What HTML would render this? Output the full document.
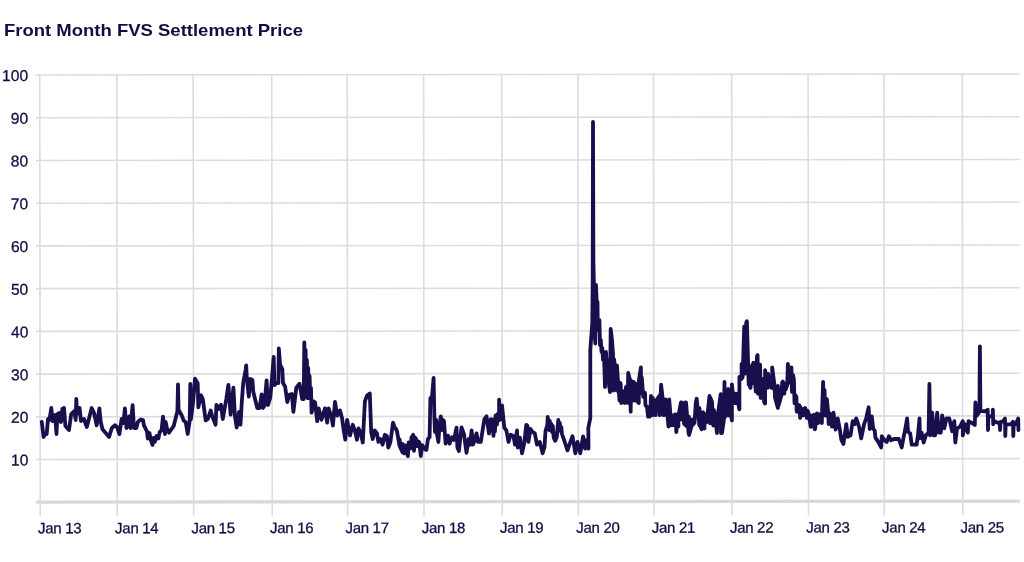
<!DOCTYPE html>
<html><head><meta charset="utf-8"><title>Front Month FVS Settlement Price</title>
<style>html,body{margin:0;padding:0;background:#fff;width:1024px;height:562px;overflow:hidden}svg{display:block}</style>
</head><body>
<svg width="1024" height="562" viewBox="0 0 1024 562">
<text x="3.9" y="36.2" font-family="Liberation Sans, Arial, sans-serif" font-weight="bold" font-size="17.0" fill="#130c44" textLength="299.1" lengthAdjust="spacingAndGlyphs">Front Month FVS Settlement Price</text>
<g transform="rotate(-0.0544 40 510)">
<line x1="36.2" x2="1020.0" y1="459.57" y2="459.57" stroke="#dcdcdc" stroke-width="1.6"/>
<line x1="36.2" x2="1020.0" y1="416.84" y2="416.84" stroke="#dcdcdc" stroke-width="1.6"/>
<line x1="36.2" x2="1020.0" y1="374.11" y2="374.11" stroke="#dcdcdc" stroke-width="1.6"/>
<line x1="36.2" x2="1020.0" y1="331.38" y2="331.38" stroke="#dcdcdc" stroke-width="1.6"/>
<line x1="36.2" x2="1020.0" y1="288.65" y2="288.65" stroke="#dcdcdc" stroke-width="1.6"/>
<line x1="36.2" x2="1020.0" y1="245.92" y2="245.92" stroke="#dcdcdc" stroke-width="1.6"/>
<line x1="36.2" x2="1020.0" y1="203.19" y2="203.19" stroke="#dcdcdc" stroke-width="1.6"/>
<line x1="36.2" x2="1020.0" y1="160.46" y2="160.46" stroke="#dcdcdc" stroke-width="1.6"/>
<line x1="36.2" x2="1020.0" y1="117.73" y2="117.73" stroke="#dcdcdc" stroke-width="1.6"/>
<line x1="36.2" x2="1020.0" y1="75.00" y2="75.00" stroke="#dcdcdc" stroke-width="1.6"/>
<line x1="40.20" x2="40.20" y1="74.20" y2="516" stroke="#dcdcdc" stroke-width="1.6"/>
<line x1="117.30" x2="117.30" y1="74.20" y2="516" stroke="#dcdcdc" stroke-width="1.6"/>
<line x1="193.60" x2="193.60" y1="74.20" y2="516" stroke="#dcdcdc" stroke-width="1.6"/>
<line x1="272.20" x2="272.20" y1="74.20" y2="516" stroke="#dcdcdc" stroke-width="1.6"/>
<line x1="347.60" x2="347.60" y1="74.20" y2="516" stroke="#dcdcdc" stroke-width="1.6"/>
<line x1="424.00" x2="424.00" y1="74.20" y2="516" stroke="#dcdcdc" stroke-width="1.6"/>
<line x1="502.20" x2="502.20" y1="74.20" y2="516" stroke="#dcdcdc" stroke-width="1.6"/>
<line x1="578.40" x2="578.40" y1="74.20" y2="516" stroke="#dcdcdc" stroke-width="1.6"/>
<line x1="653.90" x2="653.90" y1="74.20" y2="516" stroke="#dcdcdc" stroke-width="1.6"/>
<line x1="732.10" x2="732.10" y1="74.20" y2="516" stroke="#dcdcdc" stroke-width="1.6"/>
<line x1="808.50" x2="808.50" y1="74.20" y2="516" stroke="#dcdcdc" stroke-width="1.6"/>
<line x1="884.30" x2="884.30" y1="74.20" y2="516" stroke="#dcdcdc" stroke-width="1.6"/>
<line x1="962.70" x2="962.70" y1="74.20" y2="516" stroke="#dcdcdc" stroke-width="1.6"/>
<line x1="36.2" x2="1020.0" y1="502.1" y2="502.1" stroke="#d8d8d8" stroke-width="3.2"/>
<text x="28.5" y="465.57" text-anchor="end" font-family="Liberation Sans, Arial, sans-serif" font-size="15.6" fill="#130c44" stroke="#130c44" stroke-width="0.3">10</text>
<text x="28.5" y="422.84" text-anchor="end" font-family="Liberation Sans, Arial, sans-serif" font-size="15.6" fill="#130c44" stroke="#130c44" stroke-width="0.3">20</text>
<text x="28.5" y="380.11" text-anchor="end" font-family="Liberation Sans, Arial, sans-serif" font-size="15.6" fill="#130c44" stroke="#130c44" stroke-width="0.3">30</text>
<text x="28.5" y="337.38" text-anchor="end" font-family="Liberation Sans, Arial, sans-serif" font-size="15.6" fill="#130c44" stroke="#130c44" stroke-width="0.3">40</text>
<text x="28.5" y="294.65" text-anchor="end" font-family="Liberation Sans, Arial, sans-serif" font-size="15.6" fill="#130c44" stroke="#130c44" stroke-width="0.3">50</text>
<text x="28.5" y="251.92" text-anchor="end" font-family="Liberation Sans, Arial, sans-serif" font-size="15.6" fill="#130c44" stroke="#130c44" stroke-width="0.3">60</text>
<text x="28.5" y="209.19" text-anchor="end" font-family="Liberation Sans, Arial, sans-serif" font-size="15.6" fill="#130c44" stroke="#130c44" stroke-width="0.3">70</text>
<text x="28.5" y="166.46" text-anchor="end" font-family="Liberation Sans, Arial, sans-serif" font-size="15.6" fill="#130c44" stroke="#130c44" stroke-width="0.3">80</text>
<text x="28.5" y="123.73" text-anchor="end" font-family="Liberation Sans, Arial, sans-serif" font-size="15.6" fill="#130c44" stroke="#130c44" stroke-width="0.3">90</text>
<text x="28.5" y="81.00" text-anchor="end" font-family="Liberation Sans, Arial, sans-serif" font-size="15.6" fill="#130c44" stroke="#130c44" stroke-width="0.3">100</text>
<text x="38.00" y="533.3" font-family="Liberation Sans, Arial, sans-serif" font-size="15.0" fill="#130c44" stroke="#130c44" stroke-width="0.3" textLength="43.6" lengthAdjust="spacing">Jan 13</text>
<text x="115.10" y="533.3" font-family="Liberation Sans, Arial, sans-serif" font-size="15.0" fill="#130c44" stroke="#130c44" stroke-width="0.3" textLength="43.6" lengthAdjust="spacing">Jan 14</text>
<text x="191.40" y="533.3" font-family="Liberation Sans, Arial, sans-serif" font-size="15.0" fill="#130c44" stroke="#130c44" stroke-width="0.3" textLength="43.6" lengthAdjust="spacing">Jan 15</text>
<text x="270.00" y="533.3" font-family="Liberation Sans, Arial, sans-serif" font-size="15.0" fill="#130c44" stroke="#130c44" stroke-width="0.3" textLength="43.6" lengthAdjust="spacing">Jan 16</text>
<text x="345.40" y="533.3" font-family="Liberation Sans, Arial, sans-serif" font-size="15.0" fill="#130c44" stroke="#130c44" stroke-width="0.3" textLength="43.6" lengthAdjust="spacing">Jan 17</text>
<text x="421.80" y="533.3" font-family="Liberation Sans, Arial, sans-serif" font-size="15.0" fill="#130c44" stroke="#130c44" stroke-width="0.3" textLength="43.6" lengthAdjust="spacing">Jan 18</text>
<text x="500.00" y="533.3" font-family="Liberation Sans, Arial, sans-serif" font-size="15.0" fill="#130c44" stroke="#130c44" stroke-width="0.3" textLength="43.6" lengthAdjust="spacing">Jan 19</text>
<text x="576.20" y="533.3" font-family="Liberation Sans, Arial, sans-serif" font-size="15.0" fill="#130c44" stroke="#130c44" stroke-width="0.3" textLength="43.6" lengthAdjust="spacing">Jan 20</text>
<text x="651.70" y="533.3" font-family="Liberation Sans, Arial, sans-serif" font-size="15.0" fill="#130c44" stroke="#130c44" stroke-width="0.3" textLength="43.6" lengthAdjust="spacing">Jan 21</text>
<text x="729.90" y="533.3" font-family="Liberation Sans, Arial, sans-serif" font-size="15.0" fill="#130c44" stroke="#130c44" stroke-width="0.3" textLength="43.6" lengthAdjust="spacing">Jan 22</text>
<text x="806.30" y="533.3" font-family="Liberation Sans, Arial, sans-serif" font-size="15.0" fill="#130c44" stroke="#130c44" stroke-width="0.3" textLength="43.6" lengthAdjust="spacing">Jan 23</text>
<text x="882.10" y="533.3" font-family="Liberation Sans, Arial, sans-serif" font-size="15.0" fill="#130c44" stroke="#130c44" stroke-width="0.3" textLength="43.6" lengthAdjust="spacing">Jan 24</text>
<text x="960.50" y="533.3" font-family="Liberation Sans, Arial, sans-serif" font-size="15.0" fill="#130c44" stroke="#130c44" stroke-width="0.3" textLength="43.6" lengthAdjust="spacing">Jan 25</text>
</g>
<path d="M41.8,422.0 L43.6,437.0 L44.9,434.0 L46.7,434.0 L48.0,419.0 L49.4,420.0 L51.3,408.0 L52.5,421.0 L53.8,416.0 L55.0,415.0 L56.5,434.0 L57.4,414.0 L59.0,413.0 L61.0,422.0 L62.3,409.0 L64.0,408.0 L65.4,426.0 L69.0,430.0 L71.2,414.0 L74.3,411.0 L75.7,420.0 L76.3,399.0 L77.0,414.0 L79.6,408.0 L81.0,421.0 L84.0,419.0 L86.8,427.0 L89.4,417.0 L91.7,408.0 L94.0,412.8 L96.7,425.3 L99.4,408.4 L100.7,421.7 L102.5,429.3 L109.1,436.9 L111.8,428.0 L115.0,425.3 L117.0,427.0 L119.4,434.2 L121.6,419.0 L123.4,423.0 L124.9,408.4 L126.5,428.0 L129.2,416.4 L130.5,428.0 L132.6,405.2 L134.0,428.0 L136.3,428.0 L138.0,421.7 L140.8,419.5 L143.0,420.0 L143.9,425.3 L147.0,431.5 L147.8,438.5 L149.5,433.0 L150.8,440.0 L152.5,445.0 L153.5,438.0 L154.7,442.0 L156.5,436.0 L158.4,438.5 L159.7,432.0 L161.5,430.5 L163.0,416.7 L165.0,434.0 L165.7,422.0 L167.0,428.7 L169.0,432.7 L173.7,426.0 L177.4,411.3 L178.0,384.4 L178.6,410.0 L181.7,415.3 L183.7,420.7 L185.7,422.0 L187.7,434.0 L189.7,420.7 L190.3,384.0 L190.9,419.3 L193.0,403.3 L195.0,378.7 L197.7,383.3 L198.3,407.3 L201.0,395.3 L202.8,399.0 L205.7,420.4 L207.8,419.0 L210.7,410.5 L212.1,416.0 L215.6,424.7 L216.4,404.8 L218.5,409.0 L221.0,404.8 L222.8,419.0 L226.3,399.0 L228.4,384.9 L230.6,414.7 L233.4,387.7 L234.9,416.0 L236.7,427.5 L239.0,412.0 L240.5,424.7 L241.8,402.0 L243.2,383.0 L245.6,370.0 L246.2,365.5 L246.8,378.0 L248.8,396.5 L250.2,379.0 L252.4,380.0 L253.3,392.0 L257.3,408.0 L259.5,408.0 L261.6,394.5 L263.0,408.0 L264.4,406.0 L266.6,380.3 L268.0,405.0 L270.2,398.0 L271.6,383.0 L273.7,357.0 L274.4,385.0 L276.5,383.0 L278.4,383.0 L278.8,348.3 L280.1,364.6 L282.3,369.0 L283.0,383.0 L285.1,386.5 L287.3,402.0 L289.4,394.5 L291.8,394.0 L293.4,411.8 L296.3,387.8 L299.5,383.8 L302.2,399.0 L303.7,399.0 L304.3,342.5 L305.0,396.0 L305.6,350.0 L306.2,388.0 L306.9,360.0 L307.5,398.0 L308.2,368.0 L308.9,398.0 L309.6,376.0 L310.3,398.0 L311.0,388.0 L311.6,412.7 L313.7,401.3 L315.1,402.7 L317.2,421.2 L318.7,408.4 L321.5,419.8 L325.0,408.4 L327.2,422.6 L328.6,408.4 L331.5,417.0 L332.9,425.5 L335.0,402.0 L337.2,415.5 L340.0,410.5 L342.1,418.4 L343.6,429.7 L345.3,439.7 L347.1,419.8 L350.0,435.4 L352.8,424.8 L355.0,431.0 L357.0,439.7 L358.5,428.3 L360.6,432.6 L362.8,442.5 L364.9,401.3 L367.0,395.6 L369.8,393.5 L371.2,432.0 L372.7,439.0 L374.8,430.5 L376.9,433.4 L378.4,441.9 L380.5,439.0 L382.6,444.7 L384.8,434.8 L386.9,436.2 L388.3,447.6 L390.4,442.0 L393.0,422.7 L394.7,427.7 L396.1,429.0 L397.0,431.4 L399.6,446.2 L399.6,439.3 L400.6,448.2 L402.6,452.3 L402.6,443.8 L404.2,453.4 L405.6,445.3 L407.8,456.0 L407.9,456.1 L408.7,442.3 L411.0,448.2 L411.4,437.8 L413.2,434.8 L414.0,450.8 L415.0,437.5 L416.2,439.3 L417.0,446.2 L418.6,441.6 L419.3,442.3 L420.8,456.1 L422.2,445.2 L422.3,445.3 L425.3,449.3 L425.8,447.7 L426.4,450.0 L428.0,438.8 L429.6,437.2 L430.4,398.0 L432.0,397.2 L433.6,378.0 L434.4,418.0 L435.0,432.0 L436.0,419.6 L437.0,434.0 L438.4,442.0 L439.5,425.0 L440.8,416.4 L442.0,430.0 L443.0,420.0 L444.0,421.2 L445.6,443.6 L448.0,435.6 L449.6,443.6 L452.0,437.2 L454.0,440.0 L456.5,427.6 L457.4,447.5 L458.9,451.0 L461.5,427.4 L464.0,434.2 L466.5,452.8 L468.7,439.0 L470.1,444.7 L471.6,430.5 L473.0,444.7 L475.1,439.0 L476.5,433.4 L478.0,441.9 L480.8,441.9 L483.0,427.7 L484.4,419.1 L486.5,416.3 L489.0,433.4 L490.8,419.1 L492.0,420.5 L493.5,435.9 L493.5,419.5 L494.9,431.6 L495.6,415.3 L495.6,415.3 L497.0,424.5 L497.7,413.8 L499.1,420.2 L499.1,399.6 L499.2,420.1 L501.3,418.8 L502.0,405.3 L504.3,427.7 L506.4,430.5 L508.5,441.9 L510.7,434.8 L513.5,436.2 L515.0,444.7 L517.0,430.5 L517.8,447.6 L519.9,437.6 L522.0,453.3 L524.2,443.3 L526.3,424.8 L527.4,425.5 L528.4,441.9 L530.5,429.0 L532.7,432.0 L534.8,433.4 L537.0,444.7 L539.8,441.9 L542.6,453.3 L544.5,447.0 L545.5,431.0 L547.3,425.0 L547.7,417.0 L548.5,422.0 L549.0,430.0 L549.8,421.0 L550.5,430.0 L551.3,424.0 L552.0,432.0 L552.8,426.0 L553.8,438.0 L555.2,440.8 L556.8,437.0 L558.3,420.0 L559.0,428.0 L559.8,423.0 L560.5,431.0 L561.3,427.0 L562.0,434.0 L564.7,441.9 L567.5,450.4 L570.4,441.9 L572.5,436.2 L575.3,453.3 L577.5,441.9 L580.3,453.3 L583.1,436.4 L585.1,448.6 L586.8,440.0 L588.5,448.6 L588.3,428.0 L590.3,418.0 L590.3,350.0 L592.3,323.0 L592.7,280.0 L593.0,122.0 L593.4,260.0 L594.2,300.0 L594.6,330.0 L595.3,343.5 L595.6,300.0 L596.0,285.0 L596.6,300.0 L597.5,302.0 L597.8,330.0 L598.6,322.0 L599.4,320.0 L600.0,345.0 L600.8,340.0 L601.5,352.0 L602.3,348.0 L603.0,360.0 L604.0,355.0 L605.0,387.0 L606.0,352.0 L607.0,370.0 L608.0,360.0 L609.0,385.0 L610.0,392.0 L610.7,329.0 L612.0,340.0 L613.0,353.8 L613.0,353.8 L613.2,390.6 L614.2,359.3 L616.6,390.6 L617.0,390.6 L617.0,365.5 L617.6,375.5 L619.5,400.5 L620.2,382.8 L620.7,384.2 L621.3,403.0 L623.8,391.2 L624.5,403.0 L624.5,392.8 L625.7,393.2 L626.0,386.8 L627.4,402.0 L627.6,403.0 L628.2,373.0 L630.0,379.8 L630.7,411.7 L631.0,380.3 L632.8,400.5 L633.8,381.8 L634.6,400.5 L635.6,400.5 L636.0,383.8 L638.2,402.5 L638.8,403.0 L638.8,381.1 L640.9,367.4 L641.2,393.0 L641.8,377.5 L642.0,379.8 L643.2,396.9 L645.0,392.8 L645.4,404.8 L645.6,405.5 L646.9,406.6 L648.1,416.7 L649.0,408.8 L649.0,416.6 L650.0,416.5 L651.0,395.9 L652.6,415.2 L652.8,415.1 L652.8,398.0 L655.7,415.1 L656.2,400.1 L656.4,400.2 L659.2,396.0 L659.8,415.1 L661.1,384.6 L662.8,399.5 L663.4,415.1 L664.2,415.1 L665.6,399.5 L667.0,412.3 L667.1,412.2 L668.5,426.5 L669.2,399.5 L670.6,415.8 L670.6,425.4 L671.3,425.1 L674.2,425.1 L674.2,414.8 L675.6,414.4 L676.3,432.2 L677.8,415.5 L678.4,426.5 L678.4,415.8 L681.0,402.3 L681.3,419.4 L681.4,402.3 L684.1,423.7 L684.9,402.3 L685.0,424.7 L686.0,425.8 L686.0,402.4 L688.6,433.5 L688.8,416.6 L689.1,435.0 L691.7,425.8 L691.7,419.4 L692.2,425.3 L694.5,422.9 L695.8,402.5 L696.7,398.8 L699.4,425.4 L699.5,408.1 L700.2,425.8 L701.6,429.3 L703.0,412.1 L704.5,428.6 L704.5,413.8 L706.6,422.2 L707.3,420.1 L707.3,416.6 L709.5,396.0 L710.0,423.2 L710.2,397.6 L712.0,401.7 L713.2,425.5 L713.8,409.8 L714.5,412.9 L717.0,433.0 L717.4,416.4 L717.6,416.6 L720.7,394.2 L721.0,433.0 L722.0,433.0 L723.8,420.5 L724.5,381.8 L724.6,417.9 L725.7,414.3 L727.0,390.5 L728.2,415.5 L728.2,389.0 L731.8,420.4 L731.9,420.5 L731.9,384.3 L733.8,403.1 L733.8,393.0 L735.4,403.1 L736.9,403.1 L736.9,393.6 L739.0,408.3 L739.4,409.3 L739.4,376.8 L741.6,379.0 L741.6,364.0 L742.6,377.5 L744.2,326.6 L745.1,373.7 L746.2,322.6 L746.9,321.2 L748.7,384.4 L748.7,366.6 L749.8,386.5 L750.5,387.9 L752.2,364.8 L753.0,383.2 L753.4,362.6 L755.8,391.5 L757.0,356.2 L757.6,355.1 L758.0,393.7 L760.1,364.6 L760.6,397.6 L760.8,397.9 L762.3,378.8 L764.2,402.4 L765.1,403.6 L765.1,370.2 L767.8,387.8 L768.0,386.6 L768.0,373.8 L771.4,387.7 L772.2,388.0 L772.2,367.4 L774.4,384.5 L775.0,397.6 L775.1,397.9 L777.9,407.9 L777.9,385.9 L778.6,405.4 L781.5,395.1 L782.2,382.2 L782.9,381.6 L784.3,393.7 L785.0,383.8 L785.8,389.3 L787.2,385.1 L787.9,363.8 L789.4,382.5 L790.7,380.9 L791.4,367.4 L792.0,391.9 L793.0,375.0 L793.9,379.3 L794.5,403.1 L794.5,394.2 L796.4,396.7 L796.6,410.4 L797.0,411.8 L797.0,404.2 L799.5,405.4 L800.1,418.0 L800.2,406.8 L802.0,410.4 L803.2,415.5 L803.8,408.9 L805.1,407.9 L806.9,418.0 L807.4,410.7 L808.2,411.7 L810.7,426.7 L810.7,415.4 L811.0,426.9 L813.8,414.8 L814.6,429.0 L815.0,429.2 L816.9,413.5 L818.2,423.0 L818.2,414.0 L820.0,414.8 L821.8,423.0 L821.9,423.0 L822.0,414.8 L823.1,381.8 L823.8,415.5 L824.5,389.8 L825.4,415.5 L826.0,415.5 L826.9,399.2 L828.1,411.7 L828.7,424.2 L829.0,412.7 L831.0,414.8 L831.9,426.7 L833.5,412.7 L835.6,429.7 L837.7,418.4 L839.9,429.7 L841.3,439.7 L843.4,444.0 L846.3,424.1 L847.7,436.9 L850.5,435.4 L852.7,421.2 L854.8,424.1 L856.2,418.4 L859.1,426.9 L861.2,438.3 L864.1,424.1 L866.2,418.4 L868.6,407.3 L869.7,429.0 L871.8,416.3 L873.2,429.0 L874.7,430.5 L875.4,437.6 L878.2,441.9 L881.1,447.5 L881.8,436.2 L884.6,440.4 L886.8,441.9 L888.9,436.2 L891.0,440.4 L893.9,439.0 L896.7,439.0 L898.8,439.0 L901.7,447.5 L903.8,436.2 L905.3,429.0 L907.1,418.4 L908.1,432.0 L910.2,433.3 L911.7,444.7 L913.8,444.7 L916.6,444.7 L918.0,434.7 L919.5,418.4 L919.9,438.3 L921.6,432.6 L923.7,442.5 L925.8,435.4 L928.6,432.6 L929.4,384.0 L930.2,435.4 L932.2,412.7 L933.6,435.4 L935.1,435.4 L937.2,412.7 L938.6,432.6 L940.8,432.6 L942.2,415.5 L944.3,428.3 L946.4,418.4 L949.3,418.4 L952.1,431.2 L954.3,421.2 L955.3,442.5 L957.1,428.3 L960.0,426.9 L962.8,421.2 L962.8,435.4 L964.9,424.1 L967.8,432.6 L968.5,421.2 L971.9,423.0 L974.8,425.0 L975.4,402.5 L976.8,415.8 L979.4,412.0 L979.9,346.5 L980.4,410.0 L981.8,411.0 L985.3,411.4 L987.7,409.7 L988.0,430.0 L988.4,416.3 L992.6,416.3 L992.9,409.7 L993.2,424.3 L994.0,421.0 L999.6,423.4 L1000.1,430.0 L1000.5,422.0 L1002.7,421.7 L1005.0,418.6 L1005.3,436.0 L1005.7,424.3 L1011.0,424.3 L1013.0,421.7 L1013.3,436.0 L1013.7,424.3 L1015.6,424.3 L1018.2,418.6 L1018.4,430.0" fill="none" stroke="#18104d" stroke-width="3.8" stroke-linejoin="round" stroke-linecap="round"/>
</svg>
</body></html>
